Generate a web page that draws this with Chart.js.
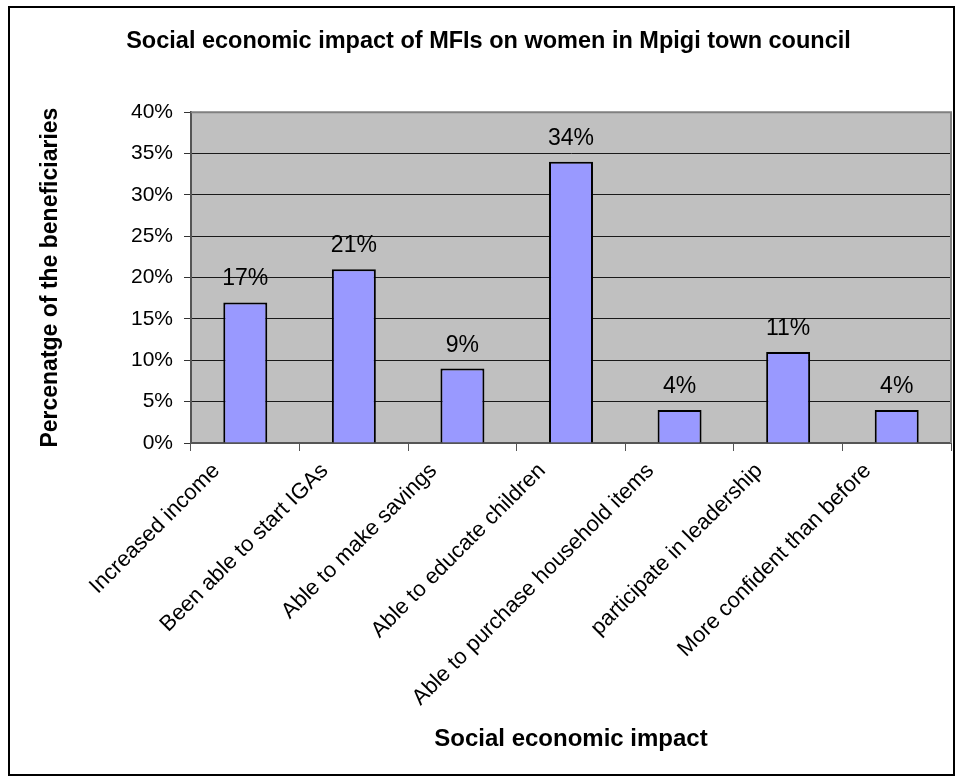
<!DOCTYPE html>
<html>
<head>
<meta charset="utf-8">
<script src="https://cdn.jsdelivr.net/npm/chart.js@4/dist/chart.umd.min.js"></script>
<style>
  body { margin: 0; background: #fff; }
  #wrap { position: relative; width: 955px; height: 776px; overflow: hidden; }
  #frame { position: absolute; left: 8px; top: 6px; width: 943px; height: 766px; border: 2px solid #000; }
  #chart { position: absolute; left: 0; top: 0; }
</style>
</head>
<body>
<div id="wrap">
  <div id="frame"></div>
  <canvas id="chart" width="955" height="776"></canvas>
</div>
<script>
const impacts = [
  'Increased income',
  'Been able to start IGAs',
  'Able to make savings',
  'Able to educate children',
  'Able to purchase household items',
  'participate in leadership',
  'More confident than before'
];
const shares = [17, 21, 9, 34, 4, 11, 4];
const yTicks = [0, 5, 10, 15, 20, 25, 30, 35, 40];

Chart.defaults.font.family = "'Liberation Sans', Arial, sans-serif";
Chart.defaults.color = '#000';

// grey plot background + frame around the plot area
const plotArea = {
  id: 'plotArea',
  beforeDraw(chart) {
    const {ctx, chartArea: a} = chart;
    ctx.save();
    ctx.fillStyle = '#c0c0c0';
    ctx.fillRect(a.left, a.top, a.right - a.left, a.bottom - a.top);
    ctx.restore();
  },
  beforeDatasetsDraw(chart) {
    const {ctx, chartArea: a} = chart;
    ctx.save();
    ctx.strokeStyle = '#808080';
    ctx.lineWidth = 2;
    ctx.beginPath();
    ctx.moveTo(a.left, a.top);
    ctx.lineTo(a.right, a.top);
    ctx.lineTo(a.right, a.bottom);
    ctx.stroke();
    ctx.restore();
  }
};

// value labels above each bar
const barLabels = {
  id: 'barLabels',
  afterDatasetsDraw(chart) {
    const {ctx} = chart;
    const meta = chart.getDatasetMeta(0);
    ctx.save();
    ctx.font = "23px 'Liberation Sans', Arial, sans-serif";
    ctx.fillStyle = '#000';
    ctx.textAlign = 'center';
    ctx.textBaseline = 'alphabetic';
    meta.data.forEach((bar, i) => {
      ctx.fillText(shares[i] + '%', bar.x, bar.y - 17);
    });
    ctx.restore();
  }
};

new Chart(document.getElementById('chart'), {
  type: 'bar',
  data: {
    labels: impacts,
    datasets: [{
      data: shares,
      backgroundColor: '#9999ff',
      borderColor: '#000',
      borderWidth: 2,
      barPercentage: 0.405,
      categoryPercentage: 1
    }]
  },
  options: {
    responsive: false,
    animation: false,
    layout: { padding: { left: 26, right: 4, top: 0, bottom: 0 } },
    plugins: {
      legend: { display: false },
      tooltip: { enabled: false },
      title: {
        display: true,
        text: 'Social economic impact of MFIs on women in Mpigi town council',
        font: { size: 23.5, weight: 'bold' },
        color: '#000',
        padding: { top: 27, bottom: 57 }
      }
    },
    scales: {
      x: {
        offset: true,
        grid: {
          display: true,
          offset: true,
          drawOnChartArea: false,
          tickLength: 8,
          tickColor: '#555'
        },
        border: { color: '#555', width: 2 },
        ticks: {
          maxRotation: 45,
          minRotation: 45,
          autoSkip: false,
          labelOffset: -29,
          padding: 7,
          font: { size: 22 },
          color: '#000'
        },
        title: {
          display: true,
          text: 'Social economic impact',
          font: { size: 24, weight: 'bold' },
          color: '#000',
          padding: { top: 0, bottom: 22 }
        },
        afterFit(scale) { scale.height = 333; }
      },
      y: {
        min: 0,
        max: 40,
        afterBuildTicks(scale) {
          scale.ticks = yTicks.map(v => ({ value: v }));
        },
        grid: {
          color: ctx => (ctx.tick && (ctx.tick.value === 0 || ctx.tick.value === 40)) ? 'rgba(0,0,0,0)' : '#1a1a1a',
          lineWidth: 1,
          tickLength: 7,
          tickColor: '#333'
        },
        border: { color: '#555', width: 2 },
        ticks: {
          padding: 11,
          font: { size: 21 },
          color: '#000',
          callback: v => v + '%'
        },
        title: {
          display: true,
          text: 'Percenatge of the beneficiaries',
          font: { size: 23, weight: 'bold' },
          color: '#000',
          padding: { top: 11, bottom: 0 }
        },
        afterFit(scale) { scale.width = 165; }
      }
    }
  },
  plugins: [plotArea, barLabels]
});
</script>
</body>
</html>
